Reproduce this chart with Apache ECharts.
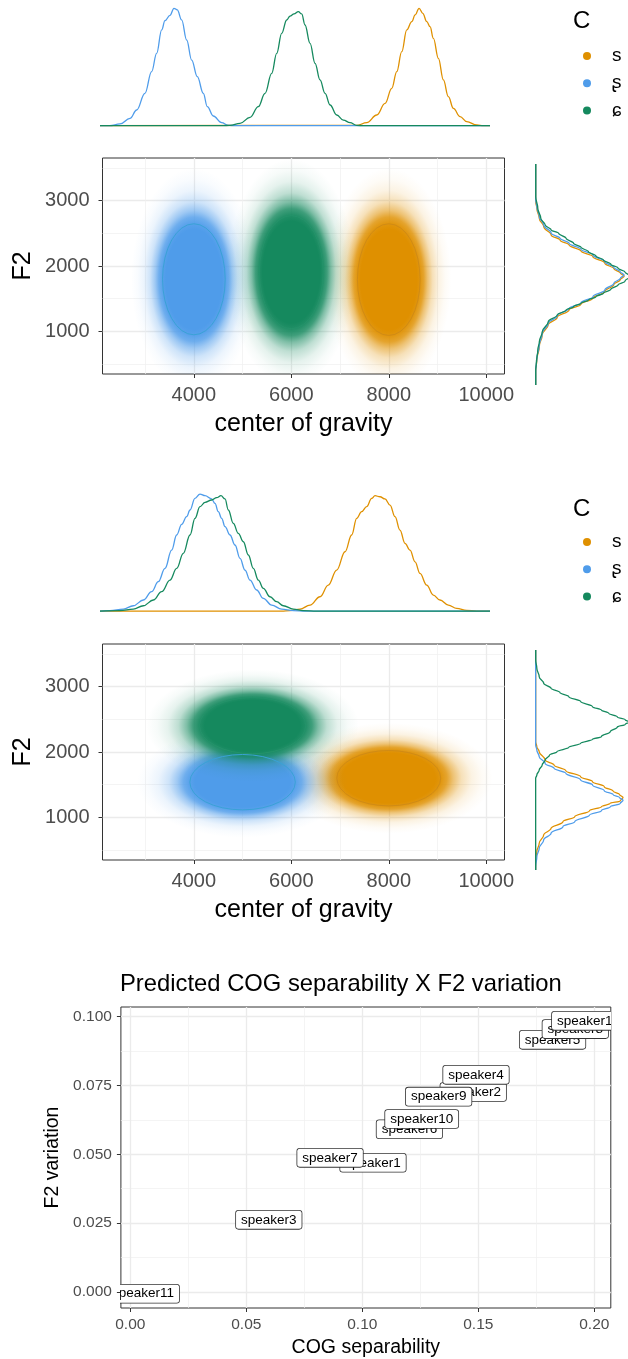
<!DOCTYPE html>
<html>
<head>
<meta charset="utf-8">
<script src="https://cdn.jsdelivr.net/npm/echarts@6/dist/echarts.min.js"></script>
<style>
html, body { margin: 0; padding: 0; background: #ffffff; }
#chart { width: 628px; height: 1359px; }
</style>
</head>
<body>
<div id="chart"></div>
<script>
// ---------- data ----------
const groups = ['s', 'ʂ', 'ɕ'];

// Panel A: cluster summaries per consonant (same order as groups)
const cogMeanA = [8000, 4000, 6000];
const f2MeanA = [1792, 1797, 1906];
const cogEllA = [643, 643, 656];   // 95% ellipse half-axis along COG
const f2EllA = [853, 848, 865];    // 95% ellipse half-axis along F2

// Panel B: cluster summaries per consonant
const cogMeanB = [8000, 5000, 5205];
const f2MeanB = [1600, 1539, 2403];
const cogEllB = [1066, 1082, 1090];
const f2EllB = [423, 423, 430];

// Panel A marginal densities of COG: [COG, density x 1e4]
const cogDensA_s = [[2792,0],[6983,0.04],[7147,0.39],[7310,1.38],[7446,2.89],[7555,4.84],[7637,7.0],[7718,9.59],[7800,12.4],[7882,13.47],[7936,14.34],[8001,15.2],[8061,14.55],[8127,13.47],[8180,12.82],[8235,11.31],[8316,8.72],[8398,5.92],[8479,3.76],[8561,2.24],[8670,1.17],[8780,0.52],[8943,0.09],[9051,0],[9159,0]];
const cogDensA_sr = [[2792,0],[2950,0],[3118,0.22],[3282,0.95],[3391,2.03],[3526,4.19],[3635,7.0],[3717,9.37],[3799,12.4],[3853,13.6],[3935,14.3],[4000,15.2],[4054,15.0],[4125,13.7],[4207,11.1],[4289,8.5],[4381,6.35],[4479,4.19],[4544,2.46],[4642,1.25],[4778,0.39],[4887,0.04],[5000,0],[9159,0]];
const cogDensA_c = [[2792,0],[4800,0],[4914,0.04],[5078,0.30],[5241,1.08],[5377,2.46],[5486,4.19],[5595,6.78],[5677,9.37],[5758,11.96],[5840,13.69],[5894,14.2],[5960,14.47],[6030,14.77],[6085,14.47],[6139,13.04],[6221,10.66],[6303,8.07],[6384,5.92],[6466,4.19],[6548,2.68],[6657,1.38],[6765,0.73],[6874,0.39],[6983,0.04],[7100,0],[9159,0]];

// Panel A marginal densities of F2: [density x 1e4, F2]
const f2DensA_s = [[0,3484],[0,2905],[0.15,2805],[0.47,2650],[1.05,2522],[2.02,2395],[3.18,2318],[4.34,2243],[5.89,2152],[7.44,2066],[8.99,1965],[10.16,1880],[11.0,1815],[11.5,1765],[11.0,1712],[10.16,1640],[8.99,1532],[7.44,1430],[5.89,1337],[4.34,1250],[2.79,1135],[1.63,1022],[0.85,870],[0.47,690],[0.15,490],[0,310],[0,101]];
const f2DensA_sr = [[0,3484],[0,2933],[0.15,2831],[0.47,2678],[1.05,2550],[2.02,2423],[3.18,2346],[4.34,2270],[5.89,2178],[7.44,2091],[8.99,1989],[10.16,1900],[11.0,1835],[11.5,1785],[11.0,1734],[10.16,1660],[8.99,1555],[7.44,1453],[5.89,1361],[4.34,1274],[2.79,1157],[1.63,1045],[0.85,892],[0.47,713],[0.15,509],[0,330],[0,101]];
const f2DensA_c = [[0,3484],[0,2984],[0.27,2805],[0.66,2652],[1.24,2550],[2.02,2474],[2.98,2423],[3.95,2346],[4.92,2270],[5.89,2208],[6.86,2142],[7.83,2076],[8.80,2014],[9.77,1950],[10.70,1890],[11.6,1830],[12.3,1765],[11.6,1690],[10.70,1632],[9.77,1565],[8.80,1504],[7.83,1453],[6.86,1402],[5.89,1351],[4.92,1300],[3.95,1249],[2.79,1172],[1.63,1070],[0.85,917],[0.47,764],[0.27,636],[0.08,432],[0,330],[0,101]];

// Panel B marginal densities of COG: [COG, density x 1e4]
const cogDensB_s = [[3286,0],[6400,0],[6543,0.03],[6714,0.15],[6886,0.46],[7057,1.10],[7200,2.0],[7343,3.15],[7486,4.56],[7600,5.85],[7686,7.13],[7771,7.64],[7857,8.03],[7943,8.67],[8000,8.87],[8086,8.79],[8171,8.62],[8257,8.15],[8343,7.26],[8428,6.23],[8514,5.21],[8600,4.69],[8686,3.79],[8771,2.90],[8886,2.0],[9000,1.23],[9114,0.85],[9257,0.46],[9400,0.21],[9571,0.05],[9743,0],[9971,0]];
const cogDensB_sr = [[3286,0],[3457,0.03],[3686,0.15],[3857,0.41],[4029,0.85],[4171,1.49],[4286,2.26],[4400,3.28],[4514,4.69],[4600,5.85],[4686,6.67],[4771,7.26],[4829,7.77],[4914,8.67],[5000,9.0],[5086,8.87],[5200,8.62],[5257,8.28],[5314,7.64],[5371,7.13],[5429,6.49],[5514,5.85],[5600,5.08],[5686,4.05],[5771,3.15],[5857,2.38],[5971,1.62],[6086,0.97],[6229,0.46],[6400,0.15],[6600,0.03],[6800,0],[9971,0]];
const cogDensB_c = [[3286,0],[3629,0.03],[3857,0.15],[4029,0.41],[4200,0.85],[4343,1.49],[4486,2.38],[4600,3.28],[4714,4.44],[4829,5.85],[4914,7.13],[5000,8.03],[5086,8.36],[5200,8.54],[5286,8.72],[5360,8.87],[5429,8.62],[5486,7.77],[5571,6.74],[5657,5.97],[5743,5.33],[5829,4.31],[5914,3.28],[6000,2.38],[6086,1.74],[6200,1.10],[6314,0.72],[6429,0.41],[6600,0.15],[6771,0.03],[7000,0],[9971,0]];

// Panel B marginal densities of F2: [density x 1e4, F2]
const f2DensB_s = [[0,3200],[0,2181],[0.33,2126],[1.0,2070],[2.67,1977],[5.17,1922],[8.5,1859],[12.67,1792],[16,1737],[19.33,1681],[21.83,1630],[23.6,1595],[24.6,1560],[23.8,1522],[21,1496],[18.5,1459],[15.17,1415],[11,1348],[7.67,1292],[4.33,1218],[2.25,1144],[1.0,1052],[0.33,959],[0,866],[0,755]];
const f2DensB_sr = [[0,3200],[0,2144],[0.33,2089],[1.0,2014],[2.67,1940],[5.17,1885],[8.5,1829],[12.67,1755],[16,1700],[19.33,1637],[21.83,1592],[23.6,1560],[24.6,1530],[23.8,1495],[21,1459],[18.5,1415],[15.17,1366],[11,1292],[7.67,1237],[4.33,1163],[2.25,1089],[1.0,996],[0.33,903],[0,792],[0,755]];
const f2DensB_c = [[0,3200],[0,3088],[0.33,2996],[1.0,2903],[2.25,2829],[4.33,2774],[6.83,2726],[9.33,2681],[12.67,2626],[16,2570],[18.5,2533],[20.58,2496],[23,2455],[25.2,2425],[26.3,2400],[25.2,2372],[23,2345],[21,2292],[18.5,2237],[16,2207],[12.67,2163],[9.33,2118],[6,2070],[3.92,2033],[2.67,1977],[1.83,1922],[1.0,1866],[0.33,1811],[0,1774],[0,755]];

// Speaker summary
const speakers = ['speaker1','speaker2','speaker3','speaker4','speaker5','speaker6','speaker7','speaker8','speaker9','speaker10','speaker11','speaker12'];
const cogSeparability = [0.1046, 0.1478, 0.0597, 0.1490, 0.1820, 0.1203, 0.0861, 0.1918, 0.1329, 0.1256, 0.0055, 0.1975];
const f2Variation = [0.0469, 0.0726, 0.0262, 0.0788, 0.0915, 0.0591, 0.0487, 0.0954, 0.0709, 0.0628, -0.0006, 0.0984];

// Tick labels
const cogTicks = [4000, 6000, 8000, 10000];
const f2Ticks = [1000, 2000, 3000];
const sepTicks = [0, 0.05, 0.10, 0.15, 0.20];
const varTicks = [0, 0.025, 0.05, 0.075, 0.10];

// ---------- styling ----------
const FONT = "'Liberation Sans', 'Noto Sans', 'DejaVu Sans', sans-serif";
const groupColors = ['#DF9000', '#4F9CEA', '#15895E'];
const outlineColors = ['#D08B16', '#3AA2D6', '#24936A'];
const HALO = 2.0;

function rgba(hex, a) {
  const n = parseInt(hex.slice(1), 16);
  return 'rgba(' + ((n >> 16) & 255) + ',' + ((n >> 8) & 255) + ',' + (n & 255) + ',' + a + ')';
}

function cloudStops(hex) {
  return [
    { offset: 0, color: rgba(hex, 1) },
    { offset: 0.45, color: rgba(hex, 1) },
    { offset: 0.5, color: rgba(hex, 0.95) },
    { offset: 0.56, color: rgba(hex, 0.82) },
    { offset: 0.62, color: rgba(hex, 0.55) },
    { offset: 0.70, color: rgba(hex, 0.28) },
    { offset: 0.80, color: rgba(hex, 0.11) },
    { offset: 0.90, color: rgba(hex, 0.035) },
    { offset: 1, color: rgba(hex, 0) }
  ];
}

// point cloud drawn as a soft elliptical density around the cluster centre
function renderCloud(params, api) {
  const c = api.coord([api.value(0), api.value(1)]);
  const s = api.size([api.value(2), api.value(3)]);
  const hex = api.visual('color');
  return {
    type: 'circle',
    x: c[0], y: c[1],
    scaleX: s[0] * HALO, scaleY: s[1] * HALO,
    shape: { cx: 0, cy: 0, r: 1 },
    style: { fill: new echarts.graphic.RadialGradient(0.5, 0.5, 0.5, cloudStops(hex)) }
  };
}

// 95% confidence ellipse outline
function renderEllipse(params, api) {
  const c = api.coord([api.value(0), api.value(1)]);
  const s = api.size([api.value(2), api.value(3)]);
  const rx = s[0], ry = s[1];
  const d = 'M' + (c[0] - rx) + ' ' + c[1] +
    ' A' + rx + ' ' + ry + ' 0 1 0 ' + (c[0] + rx) + ' ' + c[1] +
    ' A' + rx + ' ' + ry + ' 0 1 0 ' + (c[0] - rx) + ' ' + c[1] + ' Z';
  return {
    type: 'path',
    shape: { pathData: d, x: c[0] - rx, y: c[1] - ry, width: 2 * rx, height: 2 * ry },
    style: { fill: null, stroke: api.visual('color'), lineWidth: 1 }
  };
}

function renderLabel(params, api) {
  const c = api.coord([api.value(0), api.value(1)]);
  return {
    type: 'text',
    x: c[0], y: c[1],
    style: {
      text: speakers[params.dataIndex],
      font: '13.5px ' + FONT,
      fill: '#000000',
      align: 'center', verticalAlign: 'middle',
      lineHeight: 14,
      backgroundColor: '#ffffff',
      borderColor: '#333333', borderWidth: 0.8, borderRadius: 2.5,
      padding: [2, 5]
    }
  };
}

function hiddenAxis(gridIndex, min, max) {
  return { gridIndex, type: 'value', min, max, show: false };
}

const plainNumber = v => String(Math.round(v));

function cogAxis(gridIndex) {
  return {
    gridIndex, type: 'value', min: 2125, max: 10375, minInterval: 2000, maxInterval: 2000,
    name: 'center of gravity', nameLocation: 'middle', nameGap: 38,
    nameTextStyle: { fontSize: 25, color: '#000', fontFamily: FONT },
    axisLine: { show: false, onZero: false },
    axisTick: { show: true, length: 4, lineStyle: { color: '#333', width: 1 }, customValues: cogTicks },
    axisLabel: { color: '#4D4D4D', fontSize: 20, margin: 11, fontFamily: FONT, customValues: cogTicks, formatter: plainNumber },
    splitLine: { show: true, lineStyle: { color: '#EBEBEB', width: 1.3 } },
    minorTick: { show: false, splitNumber: 2 },
    minorSplitLine: { show: true, lineStyle: { color: '#EFEFEF', width: 0.7 } }
  };
}

function f2Axis(gridIndex) {
  return {
    gridIndex, type: 'value', min: 350, max: 3650, minInterval: 1000, maxInterval: 1000,
    name: 'F2', nameLocation: 'middle', nameGap: 67, nameMoveOverlap: false,
    nameTextStyle: { fontSize: 25, color: '#000', fontFamily: FONT },
    axisLine: { show: false, onZero: false },
    axisTick: { show: true, length: 4, lineStyle: { color: '#333', width: 1 }, customValues: f2Ticks },
    axisLabel: { color: '#4D4D4D', fontSize: 20, margin: 13, fontFamily: FONT, customValues: f2Ticks, formatter: plainNumber },
    splitLine: { show: true, lineStyle: { color: '#EBEBEB', width: 1.3 } },
    minorTick: { show: false, splitNumber: 2 },
    minorSplitLine: { show: true, lineStyle: { color: '#EFEFEF', width: 0.7 } }
  };
}

function densityLine(name, data, axisIdx, color, mono) {
  return {
    type: 'line', name, data, xAxisIndex: axisIdx, yAxisIndex: axisIdx,
    showSymbol: false, symbol: 'none', smooth: 0.4, smoothMonotone: mono,
    lineStyle: { color, width: 1.3 }, itemStyle: { color },
    silent: true, z: 4
  };
}

const panels = [
  { cogMean: cogMeanA, f2Mean: f2MeanA, cogEll: cogEllA, f2Ell: f2EllA,
    cogDens: [cogDensA_s, cogDensA_sr, cogDensA_c], f2Dens: [f2DensA_s, f2DensA_sr, f2DensA_c],
    top: 0, main: 1, side: 2 },
  { cogMean: cogMeanB, f2Mean: f2MeanB, cogEll: cogEllB, f2Ell: f2EllB,
    cogDens: [cogDensB_s, cogDensB_sr, cogDensB_c], f2Dens: [f2DensB_s, f2DensB_sr, f2DensB_c],
    top: 3, main: 4, side: 5 }
];

const series = [];
panels.forEach(p => {
  groups.forEach((g, i) => {
    series.push({
      type: 'custom', name: g, xAxisIndex: p.main, yAxisIndex: p.main, clip: true, silent: true, z: 2,
      itemStyle: { color: groupColors[i] },
      renderItem: renderCloud,
      data: [[p.cogMean[i], p.f2Mean[i], p.cogEll[i], p.f2Ell[i]]]
    });
  });
  groups.forEach((g, i) => {
    series.push({
      type: 'custom', name: g, xAxisIndex: p.main, yAxisIndex: p.main, clip: true, silent: true, z: 3,
      itemStyle: { color: outlineColors[i] },
      renderItem: renderEllipse,
      data: [[p.cogMean[i], p.f2Mean[i], p.cogEll[i], p.f2Ell[i]]]
    });
  });
  groups.forEach((g, i) => {
    series.push(densityLine(g, p.cogDens[i], p.top, groupColors[i], 'x'));
  });
  groups.forEach((g, i) => {
    series.push(densityLine(g, p.f2Dens[i], p.side, groupColors[i], 'y'));
  });
});

series.push({
  type: 'custom', name: 'speakers', xAxisIndex: 6, yAxisIndex: 6, clip: true, silent: true, z: 5,
  renderItem: renderLabel,
  data: speakers.map((s, i) => [cogSeparability[i], f2Variation[i]])
});

const legendItems = groups.map((g, i) => ({ name: g, itemStyle: { color: groupColors[i], borderWidth: 0 } }));
function legendAt(top) {
  return {
    orient: 'vertical', left: 583, top, icon: 'circle', itemWidth: 8, itemHeight: 8,
    itemGap: 7.2, padding: 0, selectedMode: false,
    textStyle: { fontSize: 19, fontFamily: FONT, color: '#000', lineHeight: 20, padding: [0, 0, 0, 16] },
    data: legendItems
  };
}

const option = {
  animation: false,
  backgroundColor: '#ffffff',
  textStyle: { fontFamily: FONT },
  title: [
    { text: 'C', left: 573, top: 9, padding: 0, textStyle: { fontSize: 24, fontWeight: 'normal', color: '#000', fontFamily: FONT } },
    { text: 'C', left: 573, top: 497, padding: 0, textStyle: { fontSize: 24, fontWeight: 'normal', color: '#000', fontFamily: FONT } },
    { text: 'Predicted COG separability X F2 variation', left: 120, top: 972, padding: 0,
      textStyle: { fontSize: 23.8, fontWeight: 'normal', color: '#000', fontFamily: FONT } }
  ],
  legend: [legendAt(46), legendAt(532)],
  grid: [
    { left: 80.5, top: 2, width: 429, height: 129 },
    { left: 102.5, top: 158, width: 402, height: 216, show: true, borderColor: '#333', borderWidth: 1, backgroundColor: 'transparent' },
    { left: 533.4, top: 158, width: 105.8, height: 232 },
    { left: 80, top: 490, width: 430, height: 126 },
    { left: 102.5, top: 644, width: 402, height: 216, show: true, borderColor: '#333', borderWidth: 1, backgroundColor: 'transparent' },
    { left: 533, top: 645, width: 107, height: 230 },
    { left: 120.9, top: 1007, width: 489.9, height: 303, show: true, borderColor: '#333', borderWidth: 1, backgroundColor: 'transparent' }
  ],
  xAxis: [
    hiddenAxis(0, 2474, 9477),
    cogAxis(1),
    hiddenAxis(2, -0.3, 12),
    hiddenAxis(3, 2943, 10314),
    cogAxis(4),
    hiddenAxis(5, -0.75, 26),
    {
      gridIndex: 6, type: 'value', min: -0.00405, max: 0.2071, minInterval: 0.05, maxInterval: 0.05,
      name: 'COG separability', nameLocation: 'middle', nameGap: 30,
      nameTextStyle: { fontSize: 19.5, color: '#000', fontFamily: FONT },
      axisLine: { show: false, onZero: false },
      axisTick: { show: true, length: 4, lineStyle: { color: '#333', width: 1 }, customValues: sepTicks },
      axisLabel: { color: '#4D4D4D', fontSize: 15.5, margin: 9, fontFamily: FONT, customValues: sepTicks,
        formatter: v => v.toFixed(2) },
      splitLine: { show: true, lineStyle: { color: '#EBEBEB', width: 1.3 } },
      minorTick: { show: false, splitNumber: 2 },
      minorSplitLine: { show: true, lineStyle: { color: '#EFEFEF', width: 0.7 } }
    }
  ],
  yAxis: [
    hiddenAxis(0, -0.69, 16.02),
    f2Axis(1),
    hiddenAxis(2, 24, 3576),
    hiddenAxis(3, -0.38, 9.31),
    f2Axis(4),
    hiddenAxis(5, 700, 3255),
    {
      gridIndex: 6, type: 'value', min: -0.00577, max: 0.10342, minInterval: 0.025, maxInterval: 0.025,
      name: 'F2 variation', nameLocation: 'middle', nameGap: 58, nameMoveOverlap: false,
      nameTextStyle: { fontSize: 19.5, color: '#000', fontFamily: FONT },
      axisLine: { show: false, onZero: false },
      axisTick: { show: true, length: 4, lineStyle: { color: '#333', width: 1 }, customValues: varTicks },
      axisLabel: { color: '#4D4D4D', fontSize: 15.5, margin: 9, fontFamily: FONT, customValues: varTicks,
        formatter: v => v.toFixed(3) },
      splitLine: { show: true, lineStyle: { color: '#EBEBEB', width: 1.3 } },
      minorTick: { show: false, splitNumber: 2 },
      minorSplitLine: { show: true, lineStyle: { color: '#EFEFEF', width: 0.7 } }
    }
  ],
  series
};

const chart = echarts.init(document.getElementById('chart'), null, { renderer: 'canvas' });
chart.setOption(option);
</script>
</body>
</html>
